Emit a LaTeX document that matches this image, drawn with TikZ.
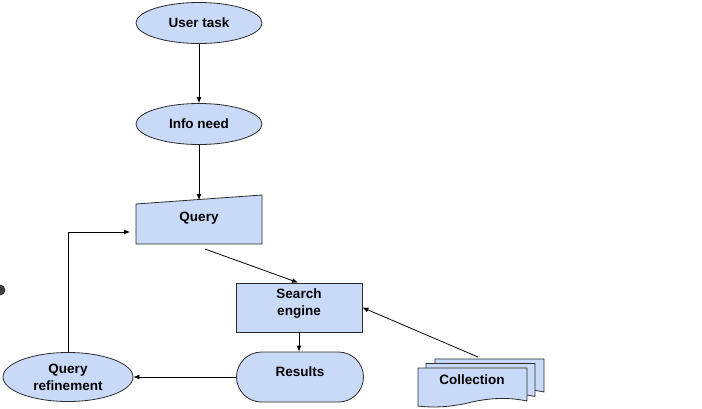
\documentclass[tikz,border=0pt]{standalone}
\usepackage{fontspec}
\setmainfont{Liberation Sans}
\usetikzlibrary{shapes.geometric,shapes.misc,arrows.meta}
\definecolor{boxfill}{HTML}{C9DAF8}
\definecolor{boxline}{HTML}{2B2B2B}
\tikzset{
  every node/.style={font=\bfseries\fontsize{13.5}{17}\selectfont, text=black},
  shp/.style={draw=boxline, fill=boxfill, line width=0.8pt},
  oval/.style={shp, ellipse, minimum width=126pt, minimum height=41pt, inner sep=0pt},
  conn/.style={line width=0.8pt, draw=black, -{Latex[length=6pt,width=5pt]}},
}
\begin{document}
\begin{tikzpicture}[x=1pt,y=-1pt]
\useasboundingbox (0,0) rectangle (702,408);
% stray mark at left edge
\fill[black!75] (0,290) circle (5.5);
% ellipses
\node[oval] (ut) at (199,23) {User task};
\node[oval] (in) at (199,124) {Info need};
\node[oval, minimum width=130pt, minimum height=49pt, align=center] (qr) at (68,377) {Query\\refinement};
% Query (manual input)
\draw[shp] (136,204) -- (262,195) -- (262,244) -- (136,244) -- cycle;
\node[minimum width=126pt, minimum height=44pt, inner sep=0pt] (q) at (199,222) {};
\node (qt) at (199,218) {Query};
% Search engine
\node[shp, rectangle, minimum width=126pt, minimum height=49pt, inner sep=0pt, align=center,
      label={[yshift=4pt,align=center]center:Search\\engine}] (se) at (299,307.5) {};
% Results
\node[shp, rounded rectangle, minimum width=127pt, minimum height=50pt, inner sep=0pt,
      label={[yshift=5pt]center:Results}] (res) at (300,377) {};
% Collection (stack of documents)
\foreach \dx/\dy in {17/-9, 8/-4.5, 0/0}{
  \draw[shp, shift={(\dx,\dy)}] (418,368) -- (527,368) -- (527,401)
     .. controls (508,397) and (490,398) .. (472,402)
     .. controls (452,407) and (434,408) .. (418,406) -- cycle;
}
\node[minimum width=109pt, minimum height=40pt, inner sep=0pt] (coll) at (472,379) {};
\node at (472,379.5) {Collection};
% connectors
\coordinate (qtop) at (199,200);
\coordinate (qin) at (130,232);
\coordinate (qbot) at (205,249);
\coordinate (cs) at (478,357);
\draw[conn] (ut.south) -- (in.north);
\draw[conn] (in.south) -- (qtop);
\draw[conn] (qr.north) |- (qin);
\draw[conn] (qbot) -- ([xshift=-1pt]se.north);
\draw[conn] (se.south) -- (res.north -| se.south);
\draw[conn] (res.west) -- (qr.east |- res.west);
\draw[conn] (cs) -- (se.east);
\end{tikzpicture}
\end{document}
